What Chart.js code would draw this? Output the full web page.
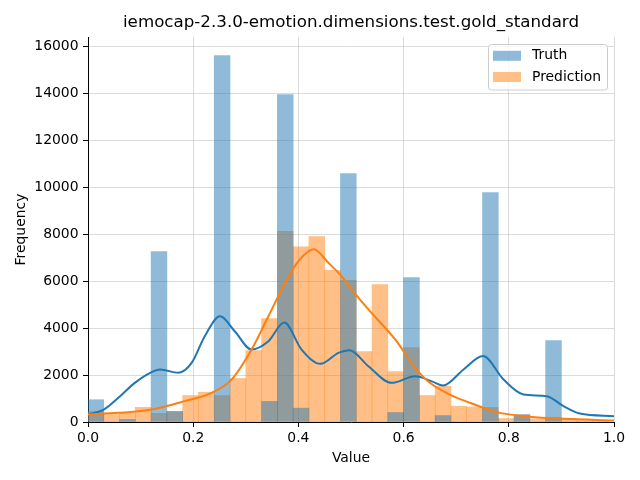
<!DOCTYPE html>
<html>
<head>
<meta charset="utf-8">
<script src="https://cdn.jsdelivr.net/npm/chart.js@4/dist/chart.umd.min.js"></script>
<style>
html,body{margin:0;padding:0;background:#fff;}
canvas{display:block;}
</style>
</head>
<body>
<canvas id="c" width="640" height="480"></canvas>
<script>
const chartTitle = "iemocap-2.3.0-emotion.dimensions.test.gold_standard";
const xLabel = "Value";
const yLabel = "Frequency";
const seriesNames = ["Truth", "Prediction"];

// histogram bin centres (bin width 0.03)
const binCenters = [0.015,0.045,0.075,0.105,0.135,0.165,0.195,0.225,0.255,0.285,
  0.315,0.345,0.375,0.405,0.435,0.465,0.495,0.525,0.555,0.585,
  0.615,0.645,0.675,0.705,0.735,0.765,0.795,0.825,0.855,0.885,
  0.915,0.945,0.975];

const truthCounts = [950,0,110,0,7270,450,0,0,15630,0,
  0,880,13960,590,0,0,10600,0,0,405,
  6160,0,275,0,0,9785,0,310,0,3475,
  0,0,0];

const predCounts = [450,320,390,625,370,450,1130,1270,1130,1855,
  3050,4410,8130,7475,7910,6470,6040,3005,5860,2150,
  3175,1130,1525,675,640,620,150,310,135,190,
  135,100,60];

// density curves (scaled to counts)
const truthKdeX = [0.0,0.03,0.061,0.089,0.12,0.137,0.172,0.197,0.222,0.251,0.279,0.311,0.343,0.373,0.406,0.442,0.476,0.497,0.533,0.577,0.622,0.655,0.675,0.714,0.751,0.79,0.828,0.872,0.904,0.935,1.0];
const truthKdeY = [320,530,1100,1670,2120,2240,2100,2520,3660,4510,3870,3090,3445,4240,3090,2480,2950,3060,2380,1670,1950,1720,1555,2240,2810,1810,1170,1100,675,360,250];

const predKdeX = [0.0,0.058,0.121,0.184,0.235,0.273,0.311,0.343,0.375,0.400,0.429,0.457,0.482,0.505,0.533,0.584,0.622,0.650,0.688,0.726,0.777,0.840,0.904,1.0];
const predKdeY = [320,390,530,890,1245,1810,3090,4510,5935,6860,7370,6790,6215,5550,4800,3520,2310,1670,1170,820,420,220,135,65];

const xTickValues = [0, 0.2, 0.4, 0.6, 0.8, 1.0];
const yTickValues = [0, 2000, 4000, 6000, 8000, 10000, 12000, 14000, 16000];

const BLUE = '#1f77b4', ORANGE = '#ff7f0e';
const FONT = 'DejaVu Sans';

function pts(xs, ys){ return xs.map((x,i)=>({x:x, y:ys[i]})); }

const overlay = {
  id:'overlay',
  afterDraw(chart){
    const ctx = chart.ctx;
    const ca = chart.chartArea;
    ctx.save();
    // title
    ctx.fillStyle = '#000';
    ctx.font = '16.7px "' + FONT + '"';
    ctx.textAlign = 'center';
    ctx.textBaseline = 'middle';
    ctx.fillText(chartTitle, (ca.left+ca.right)/2, 23);
    // legend
    const bx=488.5, by=44.5, bw=119, bh=45.5, r=3;
    ctx.beginPath();
    ctx.moveTo(bx+r,by); ctx.lineTo(bx+bw-r,by); ctx.arcTo(bx+bw,by,bx+bw,by+r,r);
    ctx.lineTo(bx+bw,by+bh-r); ctx.arcTo(bx+bw,by+bh,bx+bw-r,by+bh,r);
    ctx.lineTo(bx+r,by+bh); ctx.arcTo(bx,by+bh,bx,by+bh-r,r);
    ctx.lineTo(bx,by+r); ctx.arcTo(bx,by,bx+r,by,r); ctx.closePath();
    ctx.fillStyle='rgba(255,255,255,0.8)'; ctx.fill();
    ctx.strokeStyle='#cccccc'; ctx.lineWidth=1; ctx.stroke();
    const cols = ['rgba(31,119,180,0.5)','rgba(255,127,14,0.5)'];
    const rows = [55.8, 77];
    ctx.font = '13.9px "' + FONT + '"';
    ctx.textAlign='left'; ctx.textBaseline='middle';
    seriesNames.forEach((n,i)=>{
      ctx.fillStyle = cols[i];
      ctx.fillRect(493, rows[i]-5, 28, 10);
      ctx.fillStyle = '#000';
      ctx.fillText(n, 532, rows[i]);
    });
    ctx.restore();
  }
};

new Chart(document.getElementById('c'), {
  type:'bar',
  data:{
    datasets:[
      {type:'line', label:'pred-kde', data:pts(predKdeX,predKdeY), borderColor:ORANGE, borderWidth:2,
        pointRadius:0, cubicInterpolationMode:'monotone', fill:false, order:0},
      {type:'line', label:'truth-kde', data:pts(truthKdeX,truthKdeY), borderColor:BLUE, borderWidth:2,
        pointRadius:0, cubicInterpolationMode:'monotone', fill:false, order:1},
      {label:seriesNames[0], data:pts(binCenters,truthCounts), backgroundColor:'rgba(31,119,180,0.5)',
        borderWidth:0, barPercentage:1, categoryPercentage:1, grouped:false, order:2},
      {label:seriesNames[1], data:pts(binCenters,predCounts), backgroundColor:'rgba(255,127,14,0.5)',
        borderWidth:0, barPercentage:1, categoryPercentage:1, grouped:false, order:3}
    ]
  },
  options:{
    responsive:false,
    animation:false,
    devicePixelRatio:1,
    layout:{padding:{left:0,right:26,top:37,bottom:0}},
    plugins:{legend:{display:false}, title:{display:false}, tooltip:{enabled:false}},
    scales:{
      x:{
        type:'linear', min:0, max:1, offset:false,
        grid:{offset:false, color:'rgba(176,176,176,0.45)', lineWidth:1, tickLength:5, tickColor:'#000'},
        border:{display:true, color:'#000', width:1},
        ticks:{padding:3, color:'#000', font:{family:FONT, size:13.9},
          maxRotation:0, autoSkip:false, callback:(v)=>Number(v).toFixed(1)},
        afterBuildTicks:(s)=>{ s.ticks = xTickValues.map(v=>({value:v})); },
        title:{display:true, text:xLabel, color:'#000', font:{family:FONT, size:13.9}, padding:{top:0,bottom:13.5}},
        afterFit:(s)=>{ s.height = 58; }
      },
      y:{
        type:'linear', min:0, max:16420,
        grid:{color:'rgba(176,176,176,0.45)', lineWidth:1, tickLength:5, tickColor:'#000'},
        border:{display:true, color:'#000', width:1},
        ticks:{padding:4.5, color:'#000', font:{family:FONT, size:13.9}, autoSkip:false,
          callback:(v)=>String(v)},
        afterBuildTicks:(s)=>{ s.ticks = yTickValues.map(v=>({value:v})); },
        title:{display:true, text:yLabel, color:'#000', font:{family:FONT, size:13.9}, padding:{top:13.5,bottom:0}},
        afterFit:(s)=>{ s.width = 88; }
      }
    }
  },
  plugins:[overlay]
});
</script>
</body>
</html>
